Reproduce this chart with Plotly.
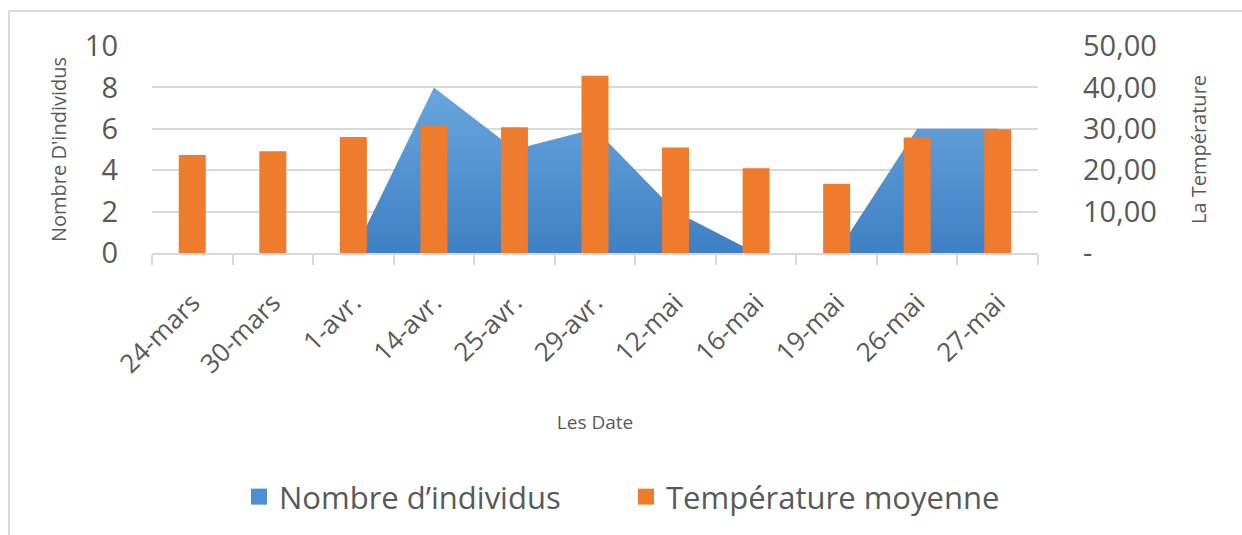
import plotly.graph_objects as go

# Survey dates, individual counts and mean temperature
dates = ["24-mars", "30-mars", "1-avr.", "14-avr.", "25-avr.", "29-avr.",
         "12-mai", "16-mai", "19-mai", "26-mai", "27-mai"]
individus = [0, 0, 0, 8, 5, 6, 2, 0, 0, 6, 6]
temperature = [23.7, 24.6, 28.0, 30.8, 30.4, 42.8, 25.5, 20.5, 16.7, 27.9, 29.9]

count_ticks = [0, 2, 4, 6, 8, 10]
temp_ticks = [0, 10, 20, 30, 40, 50]
temp_tick_labels = ["-", "10,00", "20,00", "30,00", "40,00", "50,00"]

FONT = "Open Sans"
GREY_TXT = "#595959"
GRID = "#d9d9d9"
BLUE = "#4a8bd0"
ORANGE = "#ef7b2c"

# plot-area geometry (pixels)
W, H = 1242, 535
L, R, T, B = 152, 1038, 46, 253
pw, ph = R - L, B - T


def px_x(x):
    return (x - L) / pw


def px_y(y):
    return (B - y) / ph


fig = go.Figure()

# area series on the left axis
fig.add_trace(go.Scatter(
    x=dates, y=individus, name="Nombre d’individus",
    mode="lines", line=dict(width=0, color=BLUE),
    fill="tozeroy",
    fillgradient=dict(type="vertical", start=0, stop=8,
                      colorscale=[[0, "#3e80c4"], [1, "#6aa6de"]]),
    yaxis="y", showlegend=False,
))

# column series on the right axis
fig.add_trace(go.Bar(
    x=dates, y=temperature, name="Température moyenne",
    width=0.335, marker=dict(color=ORANGE, line=dict(width=0)),
    yaxis="y2", showlegend=False,
))

# square legend keys
for name, col in [("Nombre d’individus", "#4d8fd2"), ("Température moyenne", ORANGE)]:
    fig.add_trace(go.Scatter(
        x=[None], y=[None], name=name, mode="markers",
        marker=dict(symbol="square", size=17, color=col, line=dict(width=0)),
        showlegend=True,
    ))

fig.update_layout(
    width=W, height=H,
    margin=dict(l=L, r=W - R, t=T, b=H - B, pad=0),
    paper_bgcolor="white", plot_bgcolor="white",
    font=dict(family=FONT, color=GREY_TXT),
    showlegend=True,
    legend=dict(orientation="h", x=px_x(239), xanchor="left",
                y=px_y(497), yanchor="middle",
                entrywidth=342, entrywidthmode="pixels",
                font=dict(family=FONT, size=31, color=GREY_TXT),
                traceorder="normal", bgcolor="rgba(0,0,0,0)"),
    xaxis=dict(type="category", range=[-0.5, 10.5], tickson="boundaries",
               ticks="outside", ticklen=10, tickwidth=2, tickcolor=GRID,
               showline=True, linecolor=GRID, linewidth=2, showgrid=False,
               tickangle=-45, ticklabelstandoff=22,
               tickfont=dict(family=FONT, size=26, color=GREY_TXT),
               title=dict(text="Les Date", font=dict(family=FONT, size=19, color=GREY_TXT),
                          standoff=36)),
    yaxis=dict(range=[0, 10], tickvals=count_ticks, showgrid=True,
               gridcolor=GRID, gridwidth=2, zeroline=False, showline=False,
               ticks="", ticklabelstandoff=33,
               tickfont=dict(family=FONT, size=29, color=GREY_TXT),
               title=dict(text="Nombre D'individus",
                          font=dict(family=FONT, size=20, color=GREY_TXT), standoff=12)),
    yaxis2=dict(range=[0, 50], overlaying="y", side="right", tickvals=temp_ticks,
                ticktext=temp_tick_labels, showgrid=False, zeroline=False,
                showline=False, ticks="", ticklabelstandoff=44,
                tickfont=dict(family=FONT, size=29, color=GREY_TXT),
                title=dict(text="La Température",
                           font=dict(family=FONT, size=20, color=GREY_TXT), standoff=36)),
    shapes=[
        dict(type="line", xref="paper", yref="paper",
             x0=px_x(9), x1=px_x(W + 5), y0=px_y(11), y1=px_y(11),
             line=dict(color=GRID, width=2)),
        dict(type="line", xref="paper", yref="paper",
             x0=px_x(9), x1=px_x(9), y0=px_y(11), y1=px_y(H + 5),
             line=dict(color=GRID, width=2)),
    ],
)

fig.write_html("out.html")
